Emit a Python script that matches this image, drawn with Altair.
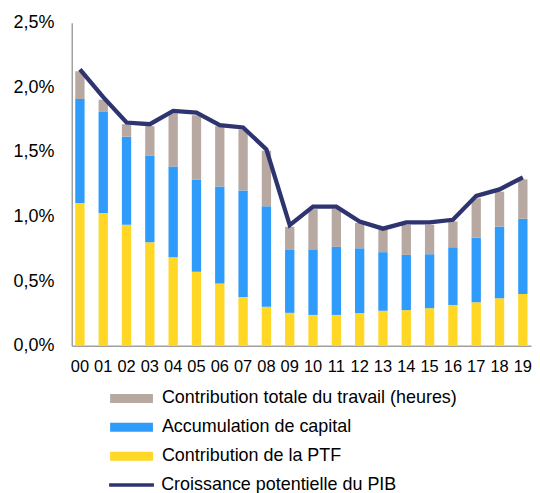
import altair as alt
import pandas as pd

years = ["00", "01", "02", "03", "04", "05", "06", "07", "08", "09",
         "10", "11", "12", "13", "14", "15", "16", "17", "18", "19"]
# contributions in percentage points
ptf = [1.105, 1.028, 0.936, 0.800, 0.685, 0.572, 0.482, 0.377, 0.302, 0.254,
       0.238, 0.238, 0.252, 0.270, 0.275, 0.290, 0.315, 0.336, 0.367, 0.400]
capital = [0.805, 0.782, 0.682, 0.670, 0.702, 0.715, 0.751, 0.825, 0.777, 0.487,
           0.508, 0.527, 0.502, 0.454, 0.428, 0.418, 0.447, 0.501, 0.555, 0.583]
labor = [0.215, 0.095, 0.097, 0.230, 0.413, 0.498, 0.467, 0.473, 0.431, 0.179,
         0.311, 0.295, 0.196, 0.174, 0.233, 0.228, 0.200, 0.305, 0.271, 0.305]
pib = [2.140, 1.925, 1.728, 1.715, 1.818, 1.805, 1.708, 1.690, 1.520, 0.933,
       1.077, 1.077, 0.962, 0.906, 0.955, 0.955, 0.975, 1.160, 1.210, 1.304]

bar_names = ["Contribution totale du travail (heures)",
             "Accumulation de capital",
             "Contribution de la PTF"]
bar_colors = ["#B7A9A1", "#2F9BFB", "#FFD724"]
line_name = "Croissance potentielle du PIB"
line_color = "#2E3470"

rows = []
for i, y in enumerate(years):
    for name, vals, order in [(bar_names[2], ptf, 0),
                              (bar_names[1], capital, 1),
                              (bar_names[0], labor, 2)]:
        rows.append({"year": y, "series": name, "value": vals[i] / 100, "order": order})
bars_df = pd.DataFrame(rows)
line_df = pd.DataFrame({"year": years, "value": [v / 100 for v in pib], "serie_line": line_name})

FONT = "Liberation Sans"

x_enc = alt.X("year:N", sort=years,
              scale=alt.Scale(paddingInner=0.6, paddingOuter=0.15),
              axis=alt.Axis(title=None, labelAngle=0, ticks=False, labelPadding=13,
                            labelFontSize=16.5, labelColor="#000000",
                            domainColor="#A0A0A0", domainWidth=1.5))
y_scale = alt.Scale(domain=[0, 0.025], nice=False)
y_axis = alt.Axis(title=None, values=[0, 0.005, 0.01, 0.015, 0.02, 0.025],
                  labelExpr="replace(format(datum.value, '.1%'), '.', ',')",
                  ticks=False, tickSize=0, grid=False, labelPadding=18,
                  labelFontSize=18, labelColor="#000000",
                  domainColor="#A0A0A0", domainWidth=1.5)

bars = alt.Chart(bars_df).mark_bar().encode(
    x=x_enc,
    y=alt.Y("value:Q", stack="zero", scale=y_scale, axis=y_axis),
    order=alt.Order("order:Q"),
    color=alt.Color("series:N",
                    scale=alt.Scale(domain=bar_names, range=bar_colors),
                    legend=alt.Legend(title=None, orient="none", legendX=51, legendY=368,
                                      direction="vertical", padding=0,
                                      symbolType="M-4.3,-0.9H4.3V0.9H-4.3Z", symbolSize=100,
                                      symbolStrokeWidth=0, symbolOpacity=1,
                                      labelOffset=21.5, labelFontSize=18, labelColor="#000000",
                                      rowPadding=11, labelLimit=400)),
)

line = alt.Chart(line_df).mark_line(strokeWidth=4.3).encode(
    x=alt.X("year:N", sort=years),
    y=alt.Y("value:Q", scale=y_scale),
    stroke=alt.Stroke("serie_line:N",
                      scale=alt.Scale(domain=[line_name], range=[line_color]),
                      legend=alt.Legend(title=None, orient="none", legendX=51, legendY=455,
                                        padding=0, symbolType="M-4.5,0H4.5", symbolSize=100,
                                        symbolStrokeWidth=3.5, labelOffset=20.75,
                                        labelFontSize=18, labelColor="#000000",
                                        labelLimit=400)),
)

chart = alt.layer(bars, line).properties(
    width=461, height=324,
    padding={"left": 4, "top": 5, "right": 0, "bottom": 0},
).configure(font=FONT).configure_view(stroke=None)

chart.save("out.html", embed_options={"renderer": "svg", "actions": False})
